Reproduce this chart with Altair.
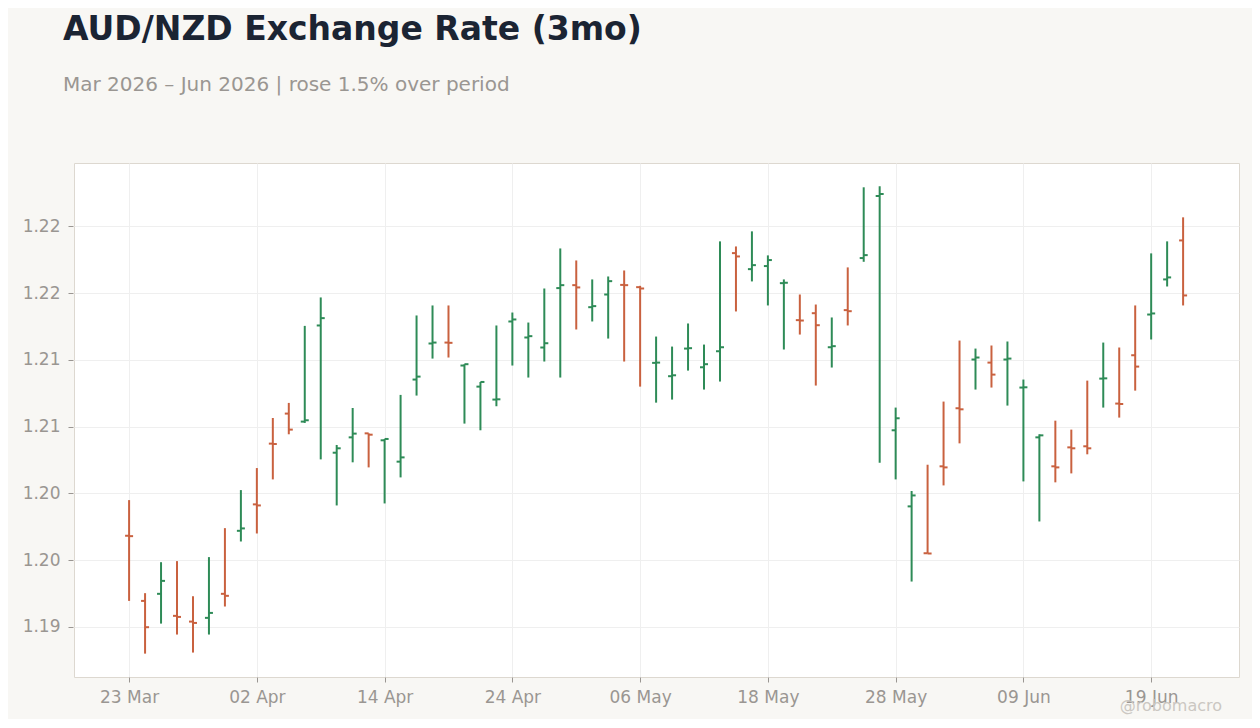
import altair as alt
import pandas as pd

# daily OHLC, business days from 23 Mar 2026
dates = pd.bdate_range("2026-03-23", periods=67)

opens = [
    1.19683, 1.19195, 1.19248, 1.19083, 1.19040, 1.19068, 1.19248, 1.19720,
    1.19918, 1.20373, 1.20598, 1.20538, 1.21258, 1.20305, 1.20420, 1.20450,
    1.20398, 1.20238, 1.20853, 1.21123, 1.21130, 1.20958, 1.20800, 1.20703,
    1.21288, 1.21168, 1.21093, 1.21538, 1.21560, 1.21395, 1.21490, 1.21562,
    1.21545, 1.20978, 1.20878, 1.21085, 1.20945, 1.21065, 1.21800, 1.21680,
    1.21703, 1.21575, 1.21298, 1.21350, 1.21095, 1.21373, 1.21763, 1.22228,
    1.20473, 1.19903, 1.19552, 1.20203, 1.20638, 1.21003, 1.20980, 1.21003,
    1.20793, 1.20420, 1.20203, 1.20345, 1.20353, 1.20860, 1.20673, 1.21035,
    1.21340, 1.21603, 1.21895,
]
highs = [
    1.19950, 1.19253, 1.19485, 1.19493, 1.19230, 1.19523, 1.19740, 1.20025,
    1.20190, 1.20565, 1.20678, 1.21255, 1.21468, 1.20363, 1.20640, 1.20450,
    1.20408, 1.20738, 1.21333, 1.21408, 1.21408, 1.20968, 1.20835, 1.21258,
    1.21355, 1.21280, 1.21535, 1.21835, 1.21745, 1.21603, 1.21625, 1.21670,
    1.21555, 1.21175, 1.21100, 1.21273, 1.21115, 1.21888, 1.21850, 1.21963,
    1.21783, 1.21603, 1.21490, 1.21415, 1.21318, 1.21693, 1.22293, 1.22300,
    1.20643, 1.20018, 1.20215, 1.20688, 1.21145, 1.21085, 1.21108, 1.21138,
    1.20853, 1.20443, 1.20545, 1.20478, 1.20845, 1.21130, 1.21093, 1.21408,
    1.21798, 1.21888, 1.22068,
]
lows = [
    1.19195, 1.18800, 1.19025, 1.18943, 1.18808, 1.18943, 1.19153, 1.19640,
    1.19700, 1.20105, 1.20443, 1.20528, 1.20255, 1.19910, 1.20233, 1.20195,
    1.19925, 1.20120, 1.20733, 1.21010, 1.21018, 1.20523, 1.20473, 1.20653,
    1.20958, 1.20868, 1.20988, 1.20868, 1.21228, 1.21288, 1.21160, 1.20988,
    1.20800, 1.20680, 1.20703, 1.20920, 1.20778, 1.20838, 1.21363, 1.21588,
    1.21408, 1.21078, 1.21190, 1.20808, 1.20943, 1.21258, 1.21735, 1.20230,
    1.20105, 1.19340, 1.19550, 1.20060, 1.20375, 1.20778, 1.20793, 1.20658,
    1.20090, 1.19790, 1.20083, 1.20150, 1.20293, 1.20643, 1.20568, 1.20770,
    1.21153, 1.21550, 1.21408,
]
closes = [
    1.19680, 1.18998, 1.19345, 1.19075, 1.19030, 1.19105, 1.19233, 1.19738,
    1.19910, 1.20370, 1.20478, 1.20548, 1.21313, 1.20338, 1.20448, 1.20440,
    1.20408, 1.20270, 1.20875, 1.21130, 1.21128, 1.20968, 1.20835, 1.20705,
    1.21303, 1.21178, 1.21125, 1.21560, 1.21543, 1.21403, 1.21590, 1.21560,
    1.21535, 1.20980, 1.20885, 1.21088, 1.20968, 1.21095, 1.21775, 1.21710,
    1.21748, 1.21578, 1.21295, 1.21260, 1.21103, 1.21365, 1.21785, 1.22243,
    1.20563, 1.19985, 1.19550, 1.20195, 1.20630, 1.21018, 1.20890, 1.21010,
    1.20795, 1.20435, 1.20195, 1.20338, 1.20338, 1.20862, 1.20670, 1.20950,
    1.21348, 1.21618, 1.21483,
]

UP = "#2e8b57"
DOWN = "#c9613f"
TEXT_GRAY = "#9a9692"
BORDER = "#ddd8d0"

df = pd.DataFrame({
    "idx": range(len(dates)),
    "date": dates.strftime("%d %b"),
    "open": opens,
    "high": highs,
    "low": lows,
    "close": closes,
})
df["dir"] = ["up" if c >= o else "down" for o, c in zip(opens, closes)]

tick_idx = list(range(0, len(dates), 8))
tick_labels = [dates[i].strftime("%d %b") for i in tick_idx]
label_expr = "[" + ",".join(f"'{t}'" for t in tick_labels) + "][round(datum.value / 8)]"

x_scale = alt.Scale(domain=[-3.45, 69.5], nice=False, zero=False)
y_scale = alt.Scale(domain=[1.18625, 1.22475], nice=False, zero=False)
color = alt.Color("dir:N", scale=alt.Scale(domain=["up", "down"], range=[UP, DOWN]), legend=None)

x_enc = alt.X(
    "idx:Q", scale=x_scale, title=None,
    axis=alt.Axis(values=tick_idx, labelExpr=label_expr, grid=True, gridColor="#efefef",
                  domain=False, tickColor=TEXT_GRAY, tickSize=5, labelPadding=7,
                  labelColor=TEXT_GRAY, labelFontSize=17, labelFont="DejaVu Sans"),
)

base = alt.Chart(df)

wick = base.mark_rule(strokeWidth=2).encode(
    x=x_enc,
    y=alt.Y("low:Q", scale=y_scale, title=None,
            axis=alt.Axis(values=[1.19, 1.195, 1.2, 1.205, 1.21, 1.215, 1.22], format=".2f",
                          grid=True, gridColor="#efefef", domain=False, offset=1,
                          tickColor=TEXT_GRAY, tickSize=5, labelPadding=8,
                          labelColor=TEXT_GRAY, labelFontSize=17, labelFont="DejaVu Sans")),
    y2="high:Q",
    color=color,
)

# open tick on the left, close tick on the right
open_tick = base.mark_tick(orient="horizontal", size=4, thickness=2, xOffset=-2, opacity=1).encode(
    x="idx:Q", y="open:Q", color=color,
)
close_tick = base.mark_tick(orient="horizontal", size=4, thickness=2, xOffset=2, opacity=1).encode(
    x="idx:Q", y="close:Q", color=color,
)

watermark = alt.Chart(pd.DataFrame({"t": ["@robomacro"]})).mark_text(
    align="right", baseline="alphabetic", fontSize=16, font="DejaVu Sans", color="#cbc7c2",
).encode(text="t:N", x=alt.value(1148), y=alt.value(548))

chart = alt.layer(wick, open_tick, close_tick, watermark).properties(
    width=1165,
    height=514,
    padding={"left": 14, "top": 6, "right": 13, "bottom": 5},
    background="#f8f7f4",
    title=alt.TitleParams(
        text="AUD/NZD Exchange Rate (3mo)",
        subtitle="Mar 2026 – Jun 2026 | rose 1.5% over period",
        anchor="start", frame="group", dx=-11,
        font="DejaVu Sans", fontSize=33, fontWeight="bold", color="#1b2433",
        subtitleFont="DejaVu Sans", subtitleFontSize=20, subtitleColor=TEXT_GRAY,
        subtitlePadding=28, offset=68,
    ),
).configure_view(stroke=BORDER, strokeWidth=1, fill="white")

chart.save("out.html", embed_options={"renderer": "svg", "actions": False})
